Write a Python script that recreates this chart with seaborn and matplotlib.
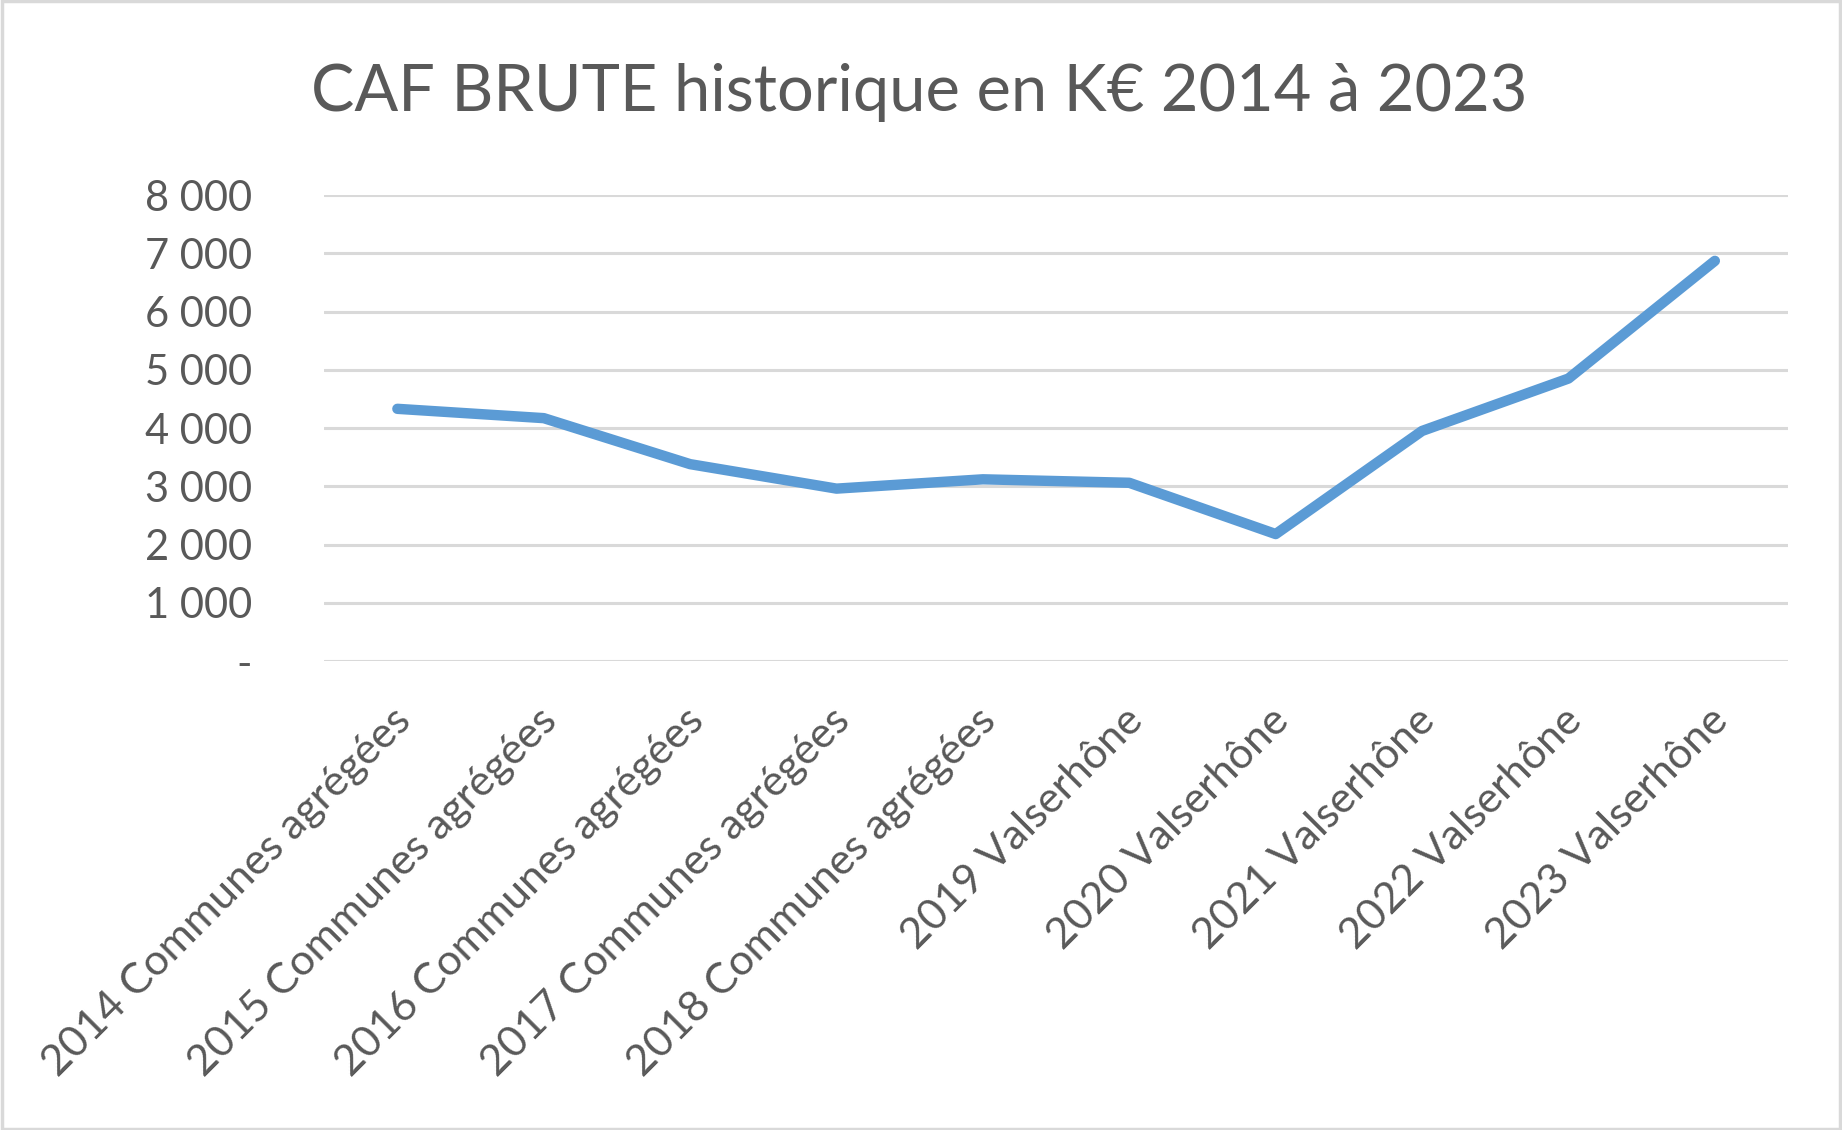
import numpy as np
import pandas as pd
import matplotlib
matplotlib.use("Agg")
import matplotlib.pyplot as plt
import matplotlib.ticker as mticker
import matplotlib.transforms as mtransforms
import seaborn as sns

# données (K€)
annees = ["2014 Communes agrégées", "2015 Communes agrégées", "2016 Communes agrégées",
          "2017 Communes agrégées", "2018 Communes agrégées", "2019 Valserhône",
          "2020 Valserhône", "2021 Valserhône", "2022 Valserhône", "2023 Valserhône"]
caf_brute = [4330, 4170, 3380, 2960, 3120, 3060, 2180, 3950, 4850, 6870]
yticks = [0, 1000, 2000, 3000, 4000, 5000, 6000, 7000, 8000]

sns.set_style("white")
plt.rcParams["font.family"] = ["Lato", "DejaVu Sans"]

df = pd.DataFrame({"annee": annees, "caf": caf_brute})

fig = plt.figure(figsize=(18.42, 11.3), dpi=100)
ax = fig.add_axes([0.176, 0.415, 0.7947, 0.4124])

sns.lineplot(x="annee", y="caf", data=df, ax=ax, sort=False, color="#5B9BD5",
             linewidth=7.5, solid_capstyle="round", solid_joinstyle="round")

ax.set_xlim(-0.5, 9.5)
ax.set_ylim(0, 8000)
ax.set_yticks(yticks)
ax.yaxis.set_major_formatter(mticker.FuncFormatter(
    lambda v, p: "-" if v == 0 else f"{int(v):,}".replace(",", " ")))
ax.grid(axis="y", color="#D9D9D9", linewidth=2.2)
ax.set_axisbelow(True)
for s in ax.spines.values():
    s.set_visible(False)
ax.set_xlabel("")
ax.set_ylabel("")
ax.tick_params(axis="y", length=0, pad=52, labelsize=30, labelcolor="#595959")
ax.tick_params(axis="x", length=0, pad=30, labelsize=31, labelcolor="#595959")
decal = mtransforms.ScaledTranslation(0.07, -0.12, fig.dpi_scale_trans)
for lab in ax.get_xticklabels():
    lab.set_rotation(45)
    lab.set_ha("right")
    lab.set_va("center")
    lab.set_rotation_mode("anchor")
    lab.set_transform(lab.get_transform() + decal)

fig.text(0.499, 0.918, "CAF BRUTE historique en K€ 2014 à 2023", ha="center", va="center",
         fontsize=46.7, color="#595959")

fig.patches.append(plt.Rectangle((0.001, 0.001), 0.998, 0.998, transform=fig.transFigure,
                                 fill=False, edgecolor="#D9D9D9", linewidth=2.5))

fig.savefig("out.png", dpi=100, facecolor="white")
